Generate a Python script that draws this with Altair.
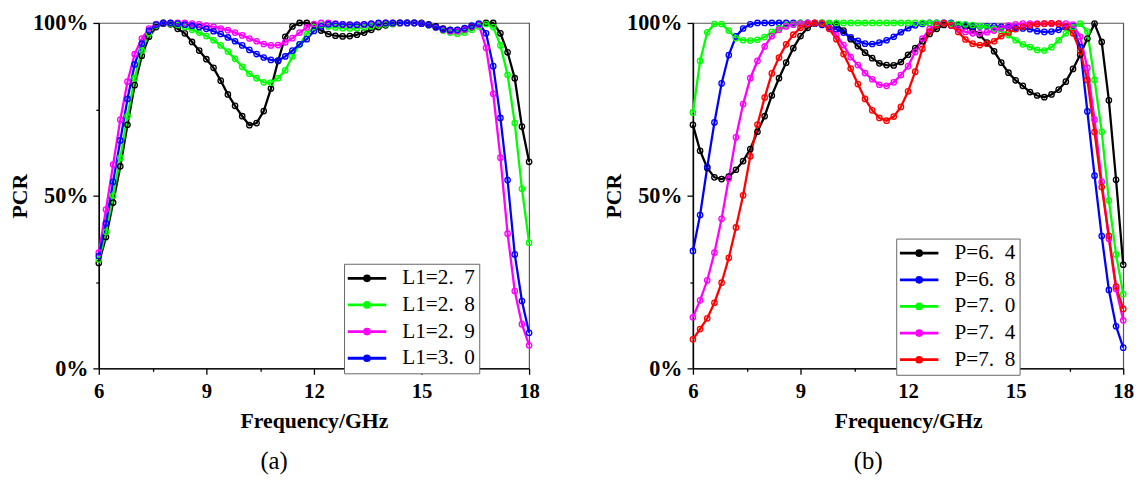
import altair as alt
import pandas as pd

# ---------------- data ----------------
FREQ = [6.0, 6.2, 6.4, 6.6, 6.8, 7.0, 7.2, 7.4, 7.6, 7.8,
        8.0, 8.2, 8.4, 8.6, 8.8, 9.0, 9.2, 9.4, 9.6, 9.8,
        10.0, 10.2, 10.4, 10.6, 10.8, 11.0, 11.2, 11.4, 11.6, 11.8,
        12.0, 12.2, 12.4, 12.6, 12.8, 13.0, 13.2, 13.4, 13.6, 13.8,
        14.0, 14.2, 14.4, 14.6, 14.8, 15.0, 15.2, 15.4, 15.6, 15.8,
        16.0, 16.2, 16.4, 16.6, 16.8, 17.0, 17.2, 17.4, 17.6, 17.8,
        18.0]

X_TICKS = [6, 7.5, 9, 10.5, 12, 13.5, 15, 16.5, 18]
Y_TICKS = [0, 25, 50, 75, 100]

# panel (a)
L1_LABELS = ["L1=2.\u20027", "L1=2.\u20028", "L1=2.\u20029", "L1=3.\u20020"]
L1_COLORS = ["#000000", "#00ff00", "#ff00ff", "#0000ff"]
L1_27 = [30.5, 38, 48, 58.5, 70.5, 82, 90.5, 96, 98.8, 99.8,
         99.6, 98.3, 97, 94.5, 92, 89.5, 87, 83.3, 79.3, 76,
         73, 70.4, 71, 74.5, 81, 89, 96, 99, 100, 100,
         99.3, 97.8, 96.8, 96.3, 96.1, 96.2, 96.6, 97.2, 98, 98.8,
         99.3, 99.7, 100, 100, 100, 100, 99.6, 99, 98.4, 98,
         97.9, 98.2, 98.8, 99.5, 100, 100, 97, 91.5, 84, 70,
         59.8]
L1_28 = [31.5, 39.5, 50, 61, 73, 84, 92, 97, 99.3, 100,
         99.8, 99.4, 98.8, 98, 97.2, 96.2, 95, 93.5, 91.7, 89.6,
         87.3, 85.3, 84, 82.8, 82.7, 84, 86.3, 90.3, 93.8, 96.8,
         98.8, 99.3, 99, 98.7, 98.5, 98.4, 98.5, 98.7, 99, 99.3,
         99.6, 99.8, 100, 100, 100, 99.8, 99.3, 98.6, 97.8, 97.2,
         96.9, 97.2, 98, 99, 99.7, 98.8, 93.5, 85, 71, 52,
         36.4]
L1_29 = [33.5, 46, 59, 72, 83, 91, 95.5, 98.4, 99.7, 100,
         100, 100, 100, 99.8, 99.6, 99.2, 98.9, 98.4, 97.9, 97.2,
         96.4, 95.5, 94.7, 93.9, 93.5, 93.6, 94.4, 95.6, 97.2, 98.7,
         99.7, 100, 100, 99.8, 99.5, 99.4, 99.4, 99.5, 99.7, 99.8,
         100, 100, 100, 100, 100, 99.8, 99.4, 98.7, 98, 97.6,
         97.6, 98.1, 99, 99.5, 92.8, 79.5, 61, 39, 22.4, 12.8,
         6.7]
L1_30 = [32.5, 42, 54, 66, 78, 88, 94, 97.8, 99.5, 100,
         100, 99.8, 99.5, 99.2, 98.8, 98.3, 97.6, 96.8, 95.8, 94.7,
         93.5, 92.2, 91, 90, 89.3, 89.1, 90.3, 92, 93.8, 95.3,
         97.7, 99, 99.6, 99.7, 99.6, 99.5, 99.5, 99.6, 99.8, 100,
         100, 100, 100, 100, 100, 99.8, 99.4, 98.8, 98.2, 97.9,
         98, 98.5, 99.2, 99.8, 97, 87.5, 72.5, 54.5, 33, 19.5,
         10.3]

# panel (b)
P_LABELS = ["P=6.\u20024", "P=6.\u20028", "P=7.\u20020", "P=7.\u20024", "P=7.\u20028"]
P_COLORS = ["#000000", "#0000ff", "#00ff00", "#ff00ff", "#ff0000"]
P_64 = [70.5, 63, 58, 55.3, 54.8, 55.5, 57.5, 60, 63.5, 68.5,
        73, 79, 84, 88.5, 92.7, 96.2, 98.6, 99.8, 100, 99.9,
        99.5, 97.8, 95.3, 93.3, 91.4, 89.8, 88.3, 87.8, 87.7, 88.7,
        90.8, 92.7, 94.7, 96.8, 98.3, 99.4, 99.7, 99.4, 98.9, 98.2,
        96.5, 94.3, 91.8, 88.5, 85.6, 83.4, 81.8, 80, 79, 78.5,
        79.3, 80.7, 83, 86.7, 90.8, 95.5, 99.8, 94.5, 77.6, 54.6,
        30]
P_68 = [34, 44.4, 58.3, 71.2, 82.5, 90.7, 96.1, 98.4, 99.6, 100,
        100, 100, 100, 100, 100, 100, 100, 99.8, 99.4, 98.8,
        98.2, 97.2, 95.8, 94.8, 94, 93.9, 94.3, 95, 96, 97.3,
        98.5, 99.3, 99.7, 100, 100, 100, 100, 99.6, 99.3, 99,
        99, 99, 99, 98.9, 98.8, 98.6, 98.4, 98.2, 97.6, 97.4,
        97.5, 98, 98.7, 99, 93, 74.4, 55.8, 38.3, 22.7, 12.2,
        6]
P_70 = [74, 89, 97.3, 99.7, 99.7, 97.8, 95.6, 95, 94.9, 95.1,
        95.9, 97.4, 98.4, 99.3, 99.7, 100, 100, 100, 100, 100,
        100, 100, 100, 100, 100, 100, 100, 100, 100, 100,
        100, 100, 100, 100, 100, 100, 99.8, 99.7, 99.6, 99.4,
        99.1, 98.8, 98.3, 97.6, 96.5, 95, 93.8, 93, 92.2, 92,
        93, 95, 97, 98.7, 99.8, 97.5, 83.5, 68.5, 48.6, 33,
        21.5]
P_74 = [14.8, 19.7, 25.5, 33.5, 43.3, 55, 66.9, 76.5, 84, 89,
        93.2, 96.2, 98, 99, 99.5, 99.8, 100, 100, 99.8, 98.5,
        96.5, 93.6, 90.1, 87.8, 85.5, 83.7, 82.1, 81.8, 82.8, 84.9,
        87.5, 91.6, 95.5, 98.2, 99.5, 100, 99.2, 98.2, 97.4, 97,
        97, 97.3, 97.8, 98.5, 99.2, 99.6, 99.8, 99.8, 99.8, 99.8,
        99.8, 99.8, 99.8, 99.5, 96, 87, 72, 54, 37.5, 23,
        13.9]
P_78 = [8.4, 11.4, 14.5, 19, 24.8, 32, 40.8, 50.1, 61.4, 70.6,
        78.4, 85.4, 90, 93.8, 96.6, 98.6, 99.6, 100, 99.8, 98.3,
        95.3, 91, 86.8, 82.3, 78, 74.7, 72.5, 71.7, 72.9, 75.7,
        80.2, 85.9, 92.5, 97.5, 99.3, 99.9, 99.3, 97.4, 95.2, 94,
        93.6, 94, 94.7, 96.2, 97.2, 98.2, 98.9, 99.3, 99.6, 99.8,
        99.9, 99.8, 99, 97, 91.8, 83.5, 68.4, 52.5, 38.4, 23.7,
        17.2]

# ---------------- styling ----------------
SERIF = "Liberation Serif"
LEGEND_SYMBOL = "M-3.9,0H3.9M0.5,0A0.5,0.5 0 1,1 -0.5,0A0.5,0.5 0 1,1 0.5,0"


def make_panel(labels, colors, series, legend_x, legend_y, subtitle):
    rows = []
    for lab, vals in zip(labels, series):
        assert len(vals) == len(FREQ), (lab, len(vals))
        for f, v in zip(FREQ, vals):
            rows.append({"freq": f, "pcr": v, "series": lab})
    df = pd.DataFrame(rows)

    x = alt.X(
        "freq:Q",
        title="Frequency/GHz",
        scale=alt.Scale(domain=[6, 18], nice=False, zero=False),
        axis=alt.Axis(
            values=X_TICKS,
            labelExpr="datum.value % 3 === 0 ? datum.label : ''",
            tickSize={"condition": {"test": "datum.value % 3 === 0", "value": 6}, "value": 3},
            labelFontSize=21,
            labelPadding=7,
            titlePadding=9,
            labelFlush=False,
            labelOverlap=False,
        ),
    )
    y = alt.Y(
        "pcr:Q",
        title="PCR",
        scale=alt.Scale(domain=[0, 100], nice=False),
        axis=alt.Axis(
            values=Y_TICKS,
            labelExpr="datum.value % 50 === 0 ? datum.value + '%' : ''",
            tickSize={"condition": {"test": "datum.value % 50 === 0", "value": 6}, "value": 3},
            labelFontSize=22.5,
            labelPadding=5,
            titlePadding=1,
            labelFlush=False,
            labelOverlap=False,
        ),
    )
    color = alt.Color(
        "series:N",
        sort=labels,
        scale=alt.Scale(domain=labels, range=colors),
        legend=alt.Legend(
            title=None,
            orient="none",
            legendX=legend_x,
            legendY=legend_y,
            symbolType=LEGEND_SYMBOL,
            symbolSize=100,
            symbolStrokeWidth=2.8,
            symbolOffset=8.5,
            labelOffset=25,
            labelFont=SERIF,
            labelFontSize=21.5,
            labelFontWeight="normal",
            labelColor="#000000",
            labelLimit=200,
            strokeColor="#666666",
            fillColor="#ffffff",
            padding=4,
            rowPadding=4,
        ),
    )
    base = alt.Chart(df).encode(x=x, y=y, color=color)
    lines = base.mark_line(strokeWidth=2.3)
    points = base.mark_point(filled=False, size=30, strokeWidth=1.3, opacity=1)
    return alt.layer(lines, points).properties(
        width=436,
        height=350,
        title=alt.TitleParams(
            text=subtitle,
            orient="bottom",
            anchor="middle",
            frame="bounds",
            font=SERIF,
            fontSize=25,
            fontWeight="normal",
            color="#000000",
            offset=18,
        ),
    )


left = make_panel(L1_LABELS, L1_COLORS, [L1_27, L1_28, L1_29, L1_30], 248.5, 244, "(a)")
right = make_panel(P_LABELS, P_COLORS, [P_64, P_68, P_70, P_74, P_78], 206, 218.5, "(b)")

chart = (
    alt.hconcat(left, right, spacing=62)
    .resolve_scale(color="independent", x="independent", y="independent")
    .resolve_legend(color="independent")
    .properties(padding={"left": 0, "top": 0, "right": 5, "bottom": 5}, background="#ffffff")
    .configure_view(stroke="#555555", strokeWidth=1.2)
    .configure_axis(
        grid=False,
        domainColor="#000000",
        domainWidth=1.5,
        tickColor="#000000",
        tickWidth=1.3,
        labelFont=SERIF,
        labelFontWeight="bold",
        labelColor="#000000",
        titleFont=SERIF,
        titleFontWeight="bold",
        titleFontSize=22,
        titleColor="#000000",
    )
)

chart.save("out.html", embed_options={"renderer": "svg", "actions": False})
